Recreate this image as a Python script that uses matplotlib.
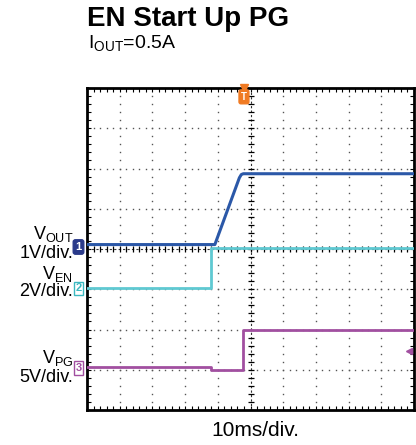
import numpy as np
import matplotlib.pyplot as plt

plt.rcParams['font.family'] = ['Liberation Sans', 'DejaVu Sans']

# Scope settings: 10 ms/div, 10 x 8 divisions, trigger at centre
t_per_div = 10.0

# VOUT (1 V/div), ground marker at 4.05 div
vout_t = [-50, -10.9, -3.4, -2.8, -2.2, 50]
vout_v = [0.06, 0.06, 1.72, 1.80, 1.82, 1.82]
vout_scale, vout_gnd = 1.0, 4.05

# VEN (2 V/div), ground marker at 3.02 div
ven_t = [-50, -12.1, -12.1, 50]
ven_v = [0.02, 0.02, 2.0, 2.0]
ven_scale, ven_gnd = 2.0, 3.02

# VPG (5 V/div), ground marker at 1.04 div
vpg_t = [-50, -12.1, -12.1, -2.3, -2.3, 50]
vpg_v = [0.1, 0.1, -0.25, -0.25, 4.7, 4.7]
vpg_scale, vpg_gnd = 5.0, 1.04

fig = plt.figure(figsize=(4.16, 4.45), dpi=100)
ax = fig.add_axes([87 / 416, 35 / 445, 327 / 416, 322 / 445])
ax.set_xlim(-50, 50)
ax.set_ylim(0, 8)

# dotted graticule
for i in range(1, 10):
    x = -50 + i * t_per_div
    if x == 0:
        continue
    yy = np.arange(0, 8.01, 0.2)
    ax.plot(np.full_like(yy, x), yy, ls='none', marker='s', ms=1.0, color='#555555', mec='none')
for j in range(1, 8):
    if j == 4:
        continue
    xx = np.arange(-50, 50.01, 2)
    ax.plot(xx, np.full_like(xx, j), ls='none', marker='s', ms=1.0, color='#555555', mec='none')

# centre crosshair with ticks
yy = np.arange(0, 8.01, 0.2)
ax.plot([0, 0], [0, 8], color='#333333', lw=0.8, ls=(0, (2, 2)))
ax.plot(np.zeros_like(yy), yy, ls='none', marker='_', ms=5, mew=0.9, color='black')
xx = np.arange(-50, 50.01, 2)
ax.plot([-50, 50], [4, 4], color='#333333', lw=0.8, ls=(0, (2, 2)))
ax.plot(xx, np.full_like(xx, 4), ls='none', marker='|', ms=5, mew=0.9, color='black')

# traces
ax.plot(ven_t, ven_gnd + np.array(ven_v) / ven_scale, color='#5fc9d2', lw=2.0, zorder=3)
ax.plot(vout_t, vout_gnd + np.array(vout_v) / vout_scale, color='#2b58a8', lw=2.2, zorder=4)
ax.plot(vpg_t, vpg_gnd + np.array(vpg_v) / vpg_scale, color='#a14fa0', lw=2.0, zorder=3)

# frame and inside ticks
for s in ax.spines.values():
    s.set_linewidth(2.0)
ax.set_xticks(np.arange(-50, 51, 10))
ax.set_yticks(np.arange(0, 9, 1))
ax.set_xticks(np.arange(-50, 51, 2), minor=True)
ax.set_yticks(np.arange(0, 8.01, 0.2), minor=True)
ax.tick_params(which='both', direction='in', length=3, width=0.8,
               top=True, right=True, labelbottom=False, labelleft=False)

# channel ground markers
marker_kw = dict(fontsize=8, fontweight='bold', ha='center', va='center', clip_on=False)
ax.text(-52.6, vout_gnd, '1', color='white',
        bbox=dict(boxstyle='round,pad=0.2', fc='#2a3a8a', ec='#2a3a8a'), **marker_kw)
ax.text(-52.6, ven_gnd, '2', color='#3bb8c0',
        bbox=dict(boxstyle='square,pad=0.15', fc='white', ec='#3bb8c0', lw=1.0), **marker_kw)
ax.text(-52.6, vpg_gnd, '3', color='#a14fa0',
        bbox=dict(boxstyle='square,pad=0.15', fc='white', ec='#a14fa0', lw=1.0), **marker_kw)

# trigger position and level markers
ax.plot([-2], [8.0], marker='v', ms=6, color='#f07a22', clip_on=False, zorder=6)
ax.text(-2, 7.78, 'T', color='white', fontsize=7, fontweight='bold', ha='center', va='center',
        bbox=dict(boxstyle='round,pad=0.2', fc='#f07a22', ec='#f07a22'), zorder=6)
ax.plot([48.6], [vpg_gnd + 2.1 / vpg_scale], marker='<', ms=5, color='#a14fa0', clip_on=False, zorder=6)

# labels
fig.text(87 / 416, 1 - 19 / 445, 'EN Start Up PG', fontsize=20, fontweight='bold', va='center')
fig.text(88 / 416, 1 - 44 / 445, r'I$_\mathregular{OUT}$=0.5A', fontsize=14, va='center')
lab = dict(fontsize=13, ha='right', va='center')
fig.text(73 / 416, 1 - 234 / 445, r'V$_\mathregular{OUT}$', **lab)
fig.text(73 / 416, 1 - 254 / 445, '1V/div.', **lab)
fig.text(73 / 416, 1 - 274 / 445, r'V$_\mathregular{EN}$', **lab)
fig.text(73 / 416, 1 - 292 / 445, '2V/div.', **lab)
fig.text(73 / 416, 1 - 358 / 445, r'V$_\mathregular{PG}$', **lab)
fig.text(73 / 416, 1 - 377 / 445, '5V/div.', **lab)
fig.text(255 / 416, 1 - 431 / 445, '10ms/div.', fontsize=15, ha='center', va='center')

fig.savefig('out.png', dpi=100)
